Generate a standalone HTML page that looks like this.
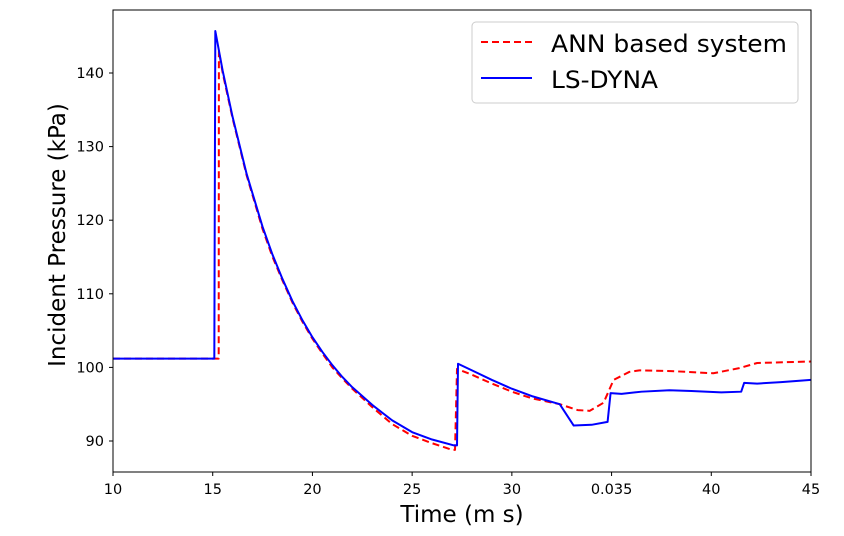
<!DOCTYPE html>
<html><head><meta charset="utf-8"><style>
body{margin:0;background:#fff}
svg{display:block;font-family:"DejaVu Sans","Liberation Sans",sans-serif}
</style></head><body>
<svg id="chart" width="844" height="536" viewBox="0 0 844 536">
<rect width="844" height="536" fill="#fff"/>
<g id="ticks"></g>
<defs><clipPath id="clip"><rect x="113" y="10" width="698" height="462"/></clipPath></defs>
<g id="series" clip-path="url(#clip)"></g>
<rect x="113" y="10" width="698" height="462" fill="none" stroke="#000" stroke-width="1"/>
<text x="462" y="522" text-anchor="middle" font-size="23">Time (m s)</text>
<text transform="translate(65,235) rotate(-90)" text-anchor="middle" font-size="23">Incident Pressure (kPa)</text>
<g>
<rect x="472" y="22" width="326" height="81" rx="4" fill="#fff" fill-opacity="0.8" stroke="#ccc"/>
<line x1="481" y1="42" x2="532" y2="42" stroke="#f00" stroke-width="2" stroke-dasharray="7,4"/>
<text x="551" y="52" font-size="24" textLength="236" lengthAdjust="spacingAndGlyphs">ANN based system</text>
<line x1="481" y1="78" x2="532" y2="78" stroke="#00f" stroke-width="2"/>
<text x="551" y="88" font-size="24" textLength="107" lengthAdjust="spacingAndGlyphs">LS-DYNA</text>
</g>
</svg>
<script>
const xTicks=[10,15,20,25,30,35,40,45];
const xTickLabels=["10","15","20","25","30","0.035","40","45"];
const yTicks=[90,100,110,120,130,140];
const lsdynaT=[10,15.08,15.13,15.5,16,16.7,17.5,18,18.5,19,19.5,20,20.5,21,21.5,22,23,24,25,26,27.1,27.25,27.3,28,29,30,31,32.4,33.1,34,34.8,34.95,35.5,36.5,37.9,39,40.5,41.5,41.65,42.3,43.5,45];
const lsdynaP=[101.2,101.2,145.7,140.3,134.0,126.3,119.1,115.3,112.0,109.0,106.4,104.1,102.1,100.3,98.7,97.3,94.9,92.8,91.2,90.2,89.4,89.4,100.5,99.6,98.3,97.1,96.1,95.0,92.1,92.2,92.6,96.5,96.4,96.7,96.9,96.8,96.6,96.7,97.9,97.8,98.0,98.3];
const annT=[10,15.3,15.31,15.5,16,16.7,17.5,18,18.5,19,19.5,20,20.5,21,21.5,22,23,24,25,26,27.0,27.15,27.25,28,29,30,31,32.4,33.3,33.9,34.6,35.1,35.9,36.4,38,40.1,41.4,42.3,45];
const annP=[101.2,101.2,143.0,140.0,133.8,126.1,118.8,115.0,111.8,108.8,106.2,103.9,101.9,100.0,98.5,97.1,94.6,92.3,90.7,89.7,88.8,88.8,99.8,99.0,97.8,96.7,95.8,95.0,94.2,94.1,95.2,98.3,99.4,99.6,99.5,99.2,99.9,100.6,100.8];
const X=v=>113+(v-10)*698/35;
const Y=v=>441-(v-90)*7.36;
const NS='http://www.w3.org/2000/svg';
const tg=document.getElementById('ticks'),sg=document.getElementById('series');
xTicks.forEach((t,i)=>{
 const l=document.createElementNS(NS,'line');
 l.setAttribute('x1',X(t));l.setAttribute('x2',X(t));l.setAttribute('y1',472);l.setAttribute('y2',476);l.setAttribute('stroke','#000');
 
 
 tg.appendChild(l);
 const tx=document.createElementNS(NS,'text');
 tx.setAttribute('x',X(t));tx.setAttribute('y',494);tx.setAttribute('text-anchor','middle');tx.setAttribute('font-size','14.5');
 tx.textContent=xTickLabels[i];
 
 
 tg.appendChild(tx);
});
yTicks.forEach(t=>{
 const l=document.createElementNS(NS,'line');
 l.setAttribute('x1',109);l.setAttribute('x2',113);l.setAttribute('y1',Y(t));l.setAttribute('y2',Y(t));l.setAttribute('stroke','#000');
 
 
 tg.appendChild(l);
 const tx=document.createElementNS(NS,'text');
 tx.setAttribute('x',104);tx.setAttribute('y',Y(t)+5);tx.setAttribute('text-anchor','end');tx.setAttribute('font-size','14.5');
 tx.textContent=t;
 
 
 tg.appendChild(tx);
});
function line(ts,ps,color,dash,name){
 const p=document.createElementNS(NS,'polyline');
 p.setAttribute('points',ts.map((t,i)=>X(t)+','+Y(ps[i])).join(' '));
 p.setAttribute('fill','none');p.setAttribute('stroke',color);p.setAttribute('stroke-width','2');
 p.setAttribute('stroke-linejoin','round');
 if(dash)p.setAttribute('stroke-dasharray',dash);
 
 
 sg.appendChild(p);
}
line(annT,annP,'#f00','7,4','ann-series-line');
line(lsdynaT,lsdynaP,'#00f',null,'lsdyna-series-line');
</script>
</body></html>
